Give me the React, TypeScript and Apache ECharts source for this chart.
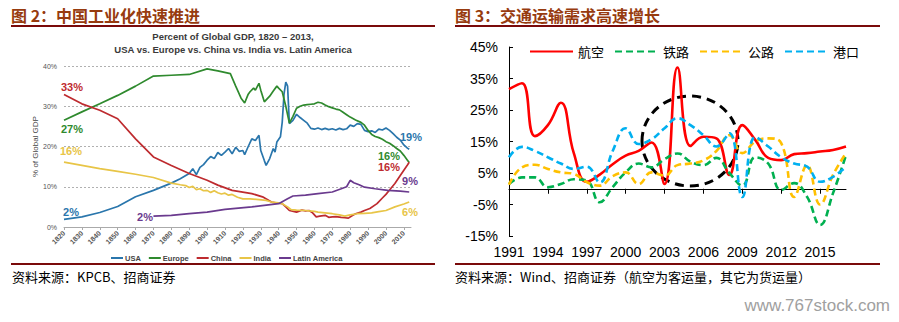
import React, { useEffect, useRef } from "react";
import * as echarts from "echarts";

// ---------- Left chart: Percent of Global GDP ----------
const usaYears = [1820,1830,1840,1850,1860,1870,1880,1885,1890,1892,1894,1896,1898,1900,1902,1904,1906,1908,1910,1912,1914,1916,1918,1920,1921,1923,1925,1927,1929,1930,1932,1933,1935,1937,1938,1939,1941,1942,1943,1944,1945,1946,1948,1950,1952,1954,1956,1958,1960,1962,1964,1966,1968,1970,1972,1974,1976,1978,1980,1982,1984,1986,1988,1990,1992,1994,1996,1998,2000,2002,2004,2006,2008,2010,2012,2013];
const usaShare = [1.9,2.5,3.6,5.1,7.5,9.1,10.9,12,13.3,14.5,13,14.8,15.5,16.6,17.5,17,18.5,17.8,18.6,19.5,18.2,19.8,18.8,19,18,20,21.9,21.5,22.8,19,16.5,15.3,17,19.5,18.6,21.1,22.4,26,33,36,35,25.7,26.5,28,27.2,26.5,25.8,24.5,24.3,24.6,24.2,24.5,24.2,24.4,24.1,24.5,24.2,24.4,25.3,25,25.7,25.5,24,23.7,23.9,23.5,24.3,24.1,24.6,24,23.2,22.3,21.6,20.4,19.6,19.3];

const europeYears = [1820,1830,1840,1850,1860,1870,1880,1890,1900,1906,1913,1916,1919,1921,1923,1924,1926,1927,1929,1930,1932,1935,1937,1939,1940,1942,1944,1946,1948,1950,1952,1954,1956,1958,1960,1962,1964,1966,1968,1970,1972,1974,1976,1978,1980,1983,1986,1988,1990,1992,1994,1996,1998,2000,2002,2004,2006,2008,2010,2012,2013];
const europeShare = [26.5,28.6,30.6,32.7,35,37.5,37.7,37.9,39.3,38.8,38.1,35,32,30.8,33,33.6,34.5,34,35.7,34,31.1,32.5,33.8,35,34.5,33.6,30,25.8,27.5,29.5,30,30.3,30.4,30.5,30.6,31,30.8,30.3,29.9,29.6,29.3,29.1,28.5,27.9,27.3,26.6,26,25.3,24,23,22.5,22.2,21.8,21.2,20.8,20.2,19.5,18.9,17.8,16.6,16];

const chinaYears = [1820,1830,1840,1850,1860,1870,1880,1890,1900,1906,1914,1925,1931,1936,1940,1942,1944,1946,1950,1953,1955,1957,1959,1961,1963,1966,1968,1970,1972,1975,1977,1979,1981,1983,1986,1988,1991,1995,1998,2000,2002,2005,2008,2010,2012,2013];
const chinaShare = [32.9,30.6,29,26.9,21.9,17.4,15.3,13.3,11.6,10.4,9.1,8.3,7.5,6.2,5.9,5.8,5,4.1,3.7,4.2,4,4.1,3.5,2.5,2.7,2.9,2.4,2.5,2.6,2.4,2.3,2.2,2.8,3.3,3.7,4.1,4.6,5.8,7.2,8.1,9.2,10.8,12.8,14.1,15.4,16.1];

const indiaYears = [1820,1830,1840,1850,1860,1870,1880,1885,1888,1890,1892,1894,1896,1898,1900,1902,1904,1906,1908,1910,1912,1914,1917,1920,1924,1929,1933,1936,1940,1942,1945,1947,1950,1955,1960,1962,1966,1970,1974,1977,1980,1984,1988,1992,1996,2000,2005,2010,2013];
const indiaShare = [16.1,15.3,14.5,13.8,13.1,12.3,10.9,10.5,10.3,9.8,10.1,9.3,9.5,9,9.1,8.6,9,8.5,8.2,8.4,7.9,8.1,7.4,7,7,6.8,6.6,6.2,6,5.8,5,4.3,4.2,4.1,3.9,3.7,3.5,3.3,3,2.7,3,3.3,3.4,3.5,3.8,4.1,5,5.7,6.2];

const latamYears = [1870,1880,1890,1900,1910,1925,1940,1945,1948,1955,1962,1970,1975,1978,1980,1982,1985,1988,1994,2001,2008,2013];
const latamShare = [2.7,2.9,3.3,3.7,4.4,5,5.8,7,7.7,7.9,8.3,8.7,9.5,10,11.6,11,10.5,9.9,9.5,9.1,8.9,8.7];

// ---------- Right chart: transport growth ----------
const years = ["1991","1992","1993","1994","1995","1996","1997","1998","1999","2000","2001","2002","2003","2004","2005","2006","2007","2008","2009","2010","2011","2012","2013","2014","2015","2016","2017"];
const aviation = [31.6,33.5,16.7,20.2,27.3,11.3,2.2,4.5,7.8,10.5,12,14.7,1.5,38.5,13.6,16.5,16,4.4,20.2,15.5,9.8,9.1,11,11.3,11.8,12.3,13.4];
const railway = [1.5,3.6,3.6,0.5,1.5,3,2.6,-4.3,0.5,5.2,8,6.8,9.4,11.2,8.6,7.5,9.8,5,1,10,8,-0.4,1.8,-2.6,-11.5,-1.4,10.7];
const highway = [1.3,6.8,7.6,6.3,5.2,4.7,2.1,1,4,5.2,1.5,5.2,4.2,7.5,8,9,12,17,11.3,15,16,14.5,-2.6,7.5,-5,4.4,11.3];
const port = [10,13.3,12,10,8,6.3,7,2,12,19.2,14.2,15.7,19.2,22.4,20.2,17,13.4,17.6,-2.6,16.4,13.4,10,8,7,2.2,3.8,7];
const rightTicks = [-15, -5, 5, 15, 25, 35, 45];

const zip = (xs: number[], ys: number[]) => xs.map((x, i) => [x, ys[i]]);

const CJK = "'Noto Sans CJK SC', 'Liberation Sans', sans-serif";
const SANS = "'Liberation Sans', Arial, sans-serif";
const BROWN = "#973B0F";
const RULE = "#7A0A0A";

export default function App() {
  const ref = useRef<HTMLDivElement>(null);
  useEffect(() => {
    if (!ref.current) return;
    const chart = echarts.init(ref.current, null, { renderer: "svg" });
    const leftLine = (name: string, color: string, xs: number[], ys: number[]) => ({
      name,
      type: "line",
      xAxisIndex: 0,
      yAxisIndex: 0,
      data: zip(xs, ys),
      symbol: "none",
      lineStyle: { color, width: 1.7 },
      itemStyle: { color },
    });
    const rightLine = (name: string, color: string, vals: number[], dashed: boolean) => ({
      name,
      type: "line",
      xAxisIndex: 1,
      yAxisIndex: 1,
      data: vals,
      symbol: "none",
      smooth: 0.45,
      lineStyle: { color, width: 2.6, type: dashed ? [7, 4] : "solid" },
      itemStyle: { color },
    });
    const lbl = (text: string, x: number, y: number, color: string) => ({
      type: "text",
      x,
      y,
      style: { text, fill: color, font: `bold 11px ${SANS}`, align: "center", verticalAlign: "middle" },
    });
    chart.setOption({
      animation: false,
      backgroundColor: "#ffffff",
      grid: [
        { left: 64, top: 66, width: 347, height: 161 },
        { left: 509, top: 47, width: 337, height: 189 },
      ],
      xAxis: [
        {
          gridIndex: 0,
          type: "value",
          min: 1820,
          max: 2014,
          interval: 10,
          axisLine: { show: true, lineStyle: { color: "#aaaaaa" } },
          axisTick: { show: true, length: 3, lineStyle: { color: "#aaaaaa" } },
          splitLine: { show: false },
          axisLabel: {
            rotate: 45,
            showMaxLabel: false,
            formatter: (v: number) => String(v),
            fontSize: 7,
            fontWeight: "bold",
            color: "#555555",
            fontFamily: SANS,
            margin: 5,
          },
        },
        {
          gridIndex: 1,
          type: "category",
          data: years,
          boundaryGap: false,
          axisLine: { lineStyle: { color: "#000000", width: 1 } },
          axisTick: { show: true, interval: 2, length: 5, lineStyle: { color: "#000000" } },
          axisLabel: { interval: 2, fontSize: 14, color: "#000000", fontFamily: SANS, margin: 9 },
          splitLine: { show: false },
        },
      ],
      yAxis: [
        {
          gridIndex: 0,
          type: "value",
          min: 0,
          max: 40,
          interval: 10,
          name: "% of Global GDP",
          nameLocation: "middle",
          nameGap: 24,
          nameTextStyle: { fontSize: 8, color: "#444444", fontFamily: SANS },
          axisLine: { show: false },
          axisTick: { show: false },
          axisLabel: { formatter: "{value}%", fontSize: 7, color: "#555555", fontFamily: SANS, margin: 7 },
          splitLine: { show: true, lineStyle: { color: "#b0b0b0", type: [2, 2], width: 1 } },
        },
        {
          gridIndex: 1,
          type: "value",
          min: -15,
          max: 45,
          axisLine: { show: true, lineStyle: { color: "#000000", width: 1 } },
          axisTick: { show: true, inside: true, length: 4, customValues: rightTicks, lineStyle: { color: "#000000" } },
          axisLabel: {
            customValues: rightTicks,
            formatter: (v: number) => `${v}%`,
            fontSize: 14,
            color: "#000000",
            fontFamily: SANS,
            margin: 11,
          },
          splitLine: { show: false },
        },
      ],
      legend: [
        {
          data: ["USA", "Europe", "China", "India", "Latin America"],
          left: 106,
          top: 249,
          icon: "rect",
          itemWidth: 12,
          itemHeight: 2,
          itemGap: 8,
          textStyle: { fontSize: 7.5, color: "#444444", fontFamily: SANS, fontWeight: "bold", padding: [0, 0, 0, -3] },
        },
        {
          data: ["航空", "铁路", "公路", "港口"],
          left: 524,
          top: 40,
          itemWidth: 43,
          itemHeight: 12,
          itemGap: 10,
          itemStyle: { opacity: 0 },
          textStyle: { fontSize: 13, color: "#000000", fontFamily: CJK },
        },
      ],
      series: [
        leftLine("USA", "#2A76AC", usaYears, usaShare),
        leftLine("Europe", "#2F8A2E", europeYears, europeShare),
        leftLine("China", "#BE2B2F", chinaYears, chinaShare),
        leftLine("India", "#E8C547", indiaYears, indiaShare),
        leftLine("Latin America", "#6A3A8E", latamYears, latamShare),
        rightLine("航空", "#FF0000", aviation, false),
        rightLine("铁路", "#00B050", railway, true),
        rightLine("公路", "#FFC000", highway, true),
        rightLine("港口", "#00B0F0", port, true),
      ],
      graphic: [
        { type: "text", x: 11, y: 15, style: { text: "图 2：中国工业化快速推进", font: `bold 16px ${CJK}`, fill: BROWN, verticalAlign: "middle" } },
        { type: "text", x: 455, y: 15, style: { text: "图 3：交通运输需求高速增长", font: `bold 16px ${CJK}`, fill: BROWN, verticalAlign: "middle" } },
        { type: "rect", shape: { x: 11, y: 25, width: 424, height: 2 }, style: { fill: RULE } },
        { type: "rect", shape: { x: 455, y: 25, width: 425, height: 2 }, style: { fill: RULE } },
        { type: "rect", shape: { x: 11, y: 263, width: 424, height: 2 }, style: { fill: RULE } },
        { type: "rect", shape: { x: 455, y: 263, width: 425, height: 2 }, style: { fill: RULE } },
        { type: "text", x: 233, y: 36, style: { text: "Percent of Global GDP, 1820 – 2013,", font: `bold 9.5px ${SANS}`, fill: "#3a3a3a", align: "center", verticalAlign: "middle" } },
        { type: "text", x: 233, y: 49, style: { text: "USA vs. Europe vs. China vs. India vs. Latin America", font: `bold 9.5px ${SANS}`, fill: "#3a3a3a", align: "center", verticalAlign: "middle" } },
        { type: "text", x: 12, y: 276, style: { text: "资料来源：KPCB、招商证券", font: `13px ${CJK}`, fill: "#000000", verticalAlign: "middle" } },
        { type: "text", x: 455, y: 276, style: { text: "资料来源：Wind、招商证券（航空为客运量，其它为货运量）", font: `13px ${CJK}`, fill: "#000000", verticalAlign: "middle" } },
        { type: "text", x: 890, y: 305, style: { text: "www.767stock.com", font: `17px ${SANS}`, fill: "#a0a0a0", align: "right", verticalAlign: "middle" } },
        { type: "ellipse", shape: { cx: 690, cy: 141, rx: 48, ry: 45 }, style: { fill: "none", stroke: "#000000", lineWidth: 3, lineDash: [9, 6] } },
        lbl("33%", 72, 87, "#BE2B2F"),
        lbl("27%", 72, 129, "#2F8A2E"),
        lbl("16%", 71, 151, "#E8C547"),
        lbl("2%", 71, 212, "#2A76AC"),
        lbl("2%", 145, 217, "#6A3A8E"),
        lbl("19%", 411, 137, "#2A76AC"),
        lbl("16%", 389, 156, "#2F8A2E"),
        lbl("16%", 389, 167, "#BE2B2F"),
        lbl("9%", 410, 181, "#6A3A8E"),
        lbl("6%", 410, 212, "#E8C547"),
      ],
    });
    return () => chart.dispose();
  }, []);
  return (
    <div
      ref={ref}
      style={{ position: "absolute", left: 0, top: 0, width: 899, height: 322, background: "#fff" }}
    />
  );
}
